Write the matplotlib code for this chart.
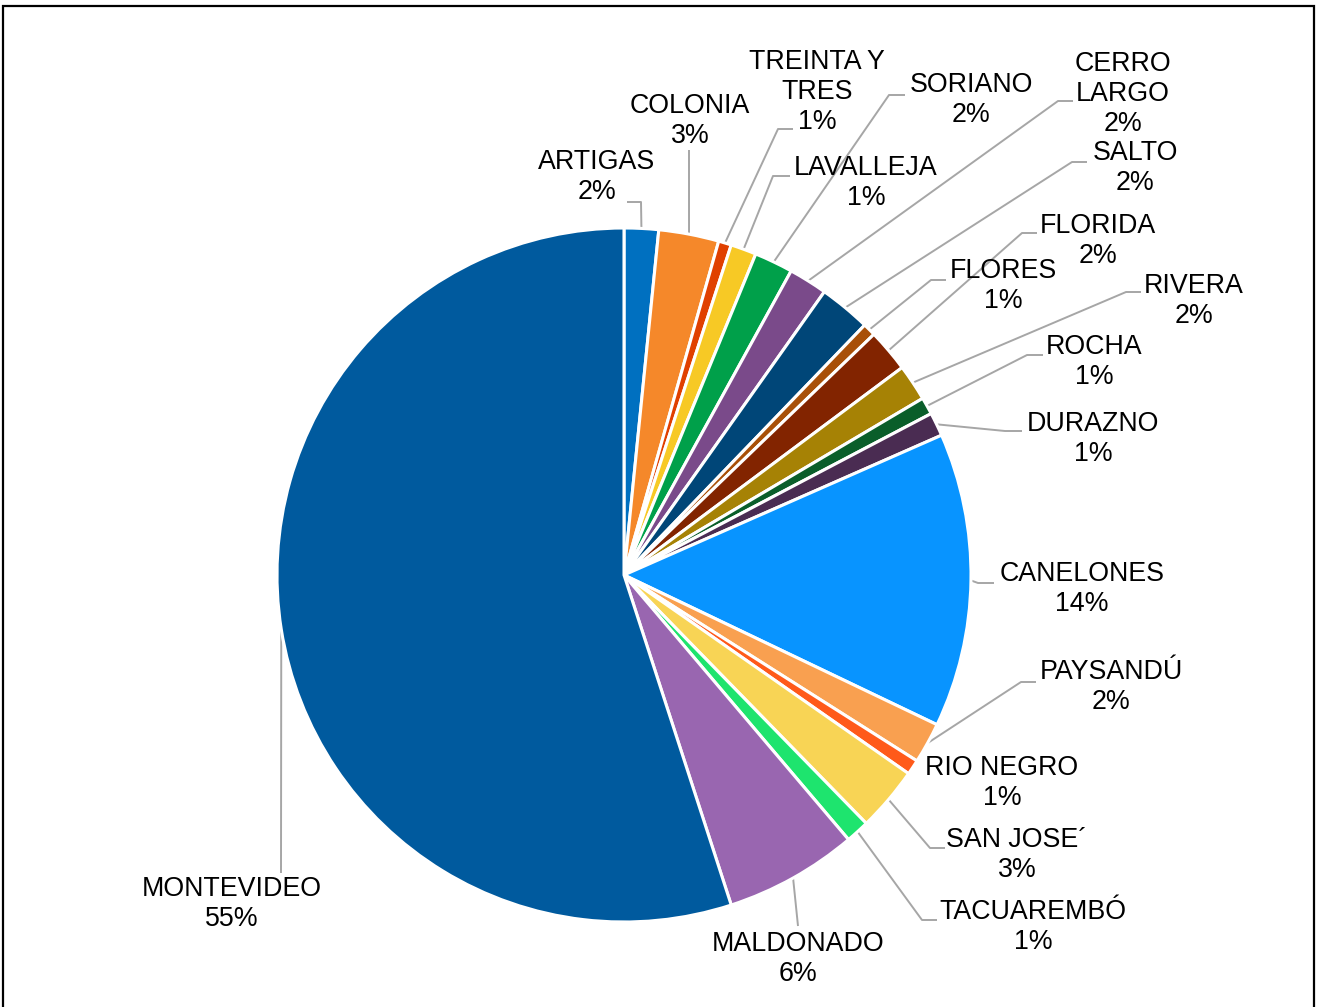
import numpy as np
import matplotlib.pyplot as plt
from matplotlib.patches import Rectangle

plt.rcParams['font.family'] = ['Liberation Sans', 'DejaVu Sans']

# departamentos, en el orden en que aparecen (sentido horario desde arriba)
deptos = ['ARTIGAS', 'COLONIA', 'TREINTA Y\nTRES', 'LAVALLEJA', 'SORIANO',
          'CERRO\nLARGO', 'SALTO', 'FLORES', 'FLORIDA', 'RIVERA', 'ROCHA',
          'DURAZNO', 'CANELONES', 'PAYSANDÚ', 'RIO NEGRO', 'SAN JOSE´',
          'TACUAREMBÓ', 'MALDONADO', 'MONTEVIDEO']
porc = [1.6, 2.8, 0.6, 1.2, 1.8, 1.8, 2.4, 0.6, 2.0, 1.7, 0.8, 1.1,
        13.7, 1.9, 0.7, 3.0, 1.1, 6.2, 55.0]
colores = ['#0070C0', '#F5882A', '#E04000', '#F7C925', '#00A04A', '#7A4A8A',
           '#004678', '#A85008', '#822400', '#A68205', '#0A5E2A', '#4A2C52',
           '#0894FF', '#F9A050', '#FF5A1A', '#F8D455', '#1EE46E', '#9966B0',
           '#005A9E']

# posicion de cada etiqueta y quiebre de la linea guia (en pixeles)
txt_pos = [(597, 177), (690, 121), (817, 92), (866, 183), (971, 100),
           (1123, 94), (1135, 168), (1003, 286), (1098, 241), (1194, 301),
           (1094, 362), (1093, 439), (1082, 589), (1111, 687), (1002, 783),
           (1017, 855), (1033, 927), (798, 959), (232, 904)]
quiebres = [[(641, 202), (627, 202)], [(689, 150)], [(778, 129), (793, 129)],
            [(773, 176), (790, 176)], [(889, 95), (905, 95)],
            [(1058, 101), (1073, 101)], [(1072, 162), (1087, 162)],
            [(931, 280), (946, 280)], [(1022, 233), (1037, 233)],
            [(1126, 292), (1141, 292)], [(1027, 355), (1043, 355)],
            [(1005, 431), (1022, 431)], [(978, 583), (994, 583)],
            [(1021, 682), (1036, 682)], None,
            [(930, 848), (945, 848)], [(922, 920), (937, 920)],
            [(798, 926)], [(281, 873)]]

W, H = 1318, 1007
cx, cy, r = 624, 575, 347

fig = plt.figure(figsize=(W / 100, H / 100), dpi=100)
ax = fig.add_axes([0, 0, 1, 1])

def Y(p):
    return H - p

wedges, _ = ax.pie(porc, colors=colores, startangle=90, counterclock=False,
                   center=(cx, Y(cy)), radius=r, frame=True,
                   wedgeprops=dict(edgecolor='white', linewidth=2.2))
ax.set_xlim(0, W)
ax.set_ylim(0, H)
ax.set_aspect('equal')
ax.axis('off')

for w, nombre, p, tp, q in zip(wedges, deptos, porc, txt_pos, quiebres):
    ax.text(tp[0], Y(tp[1]), f'{nombre}\n{round(p):.0f}%', ha='center',
            va='center', multialignment='center', fontsize=19.3,
            linespacing=1.22, color='black')
    if q is None:
        continue
    ang = np.deg2rad((w.theta1 + w.theta2) / 2)
    x0 = cx + r * np.cos(ang)
    y0 = Y(cy) + r * np.sin(ang)
    xs = [x0] + [pt[0] for pt in q]
    ys = [y0] + [Y(pt[1]) for pt in q]
    ax.plot(xs, ys, color='#A6A6A6', lw=1.4, solid_capstyle='butt', zorder=0)

# marco del grafico
ax.add_patch(Rectangle((3, -5), 1311, Y(6) + 5, fill=False,
                       edgecolor='black', lw=1.6, clip_on=False))

fig.savefig('out.png', dpi=100)
